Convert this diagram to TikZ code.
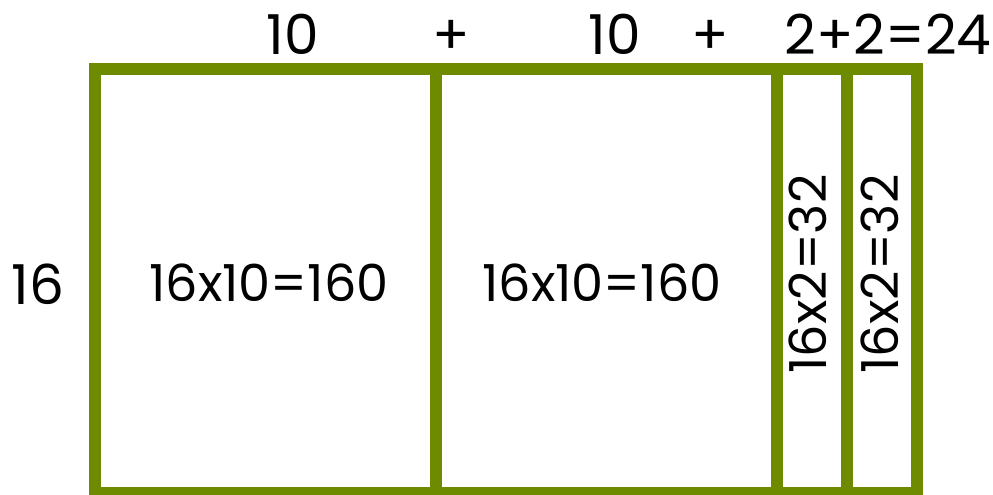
\documentclass[tikz,border=0pt]{standalone}
\usepackage{fontspec}
\setmainfont{Poppins}
\definecolor{barkgreen}{RGB}{110,139,0}
\begin{document}
\begin{tikzpicture}[x=1pt, y=-1pt, line width=12pt,
  big/.style={font=\fontsize{55}{60}\selectfont, anchor=base, inner sep=0pt},
  lab/.style={font=\fontsize{51}{56}\selectfont, anchor=base, inner sep=0pt}]
\useasboundingbox (0,0) rectangle (993,495);
\draw[barkgreen](95,69) rectangle (916.5,493);
\foreach \x in {436,776.5,846.5}
{
    \draw[barkgreen](\x,69)--(\x,493);
}
% sums along the top and the side
\node[big] (wa) at (293,55) {10};
\node[big] (pa) at (451,55) {+};
\node[big] (wb) at (615,55) {10};
\node[big] (pb) at (710,55) {+};
\node[big] (wc) at (888,55) {2+2=24};
\node[big] (h) at (38,304) {16};
% areas
\node[lab] (aa) at (269,301.7) {16x10=160};
\node[lab] (ab) at (602,301.7) {16x10=160};
\node[lab, rotate=90] (ac) at (826.7,274) {16x2=32};
\node[lab, rotate=90] (ad) at (898,274) {16x2=32};
\end{tikzpicture}
\end{document}
